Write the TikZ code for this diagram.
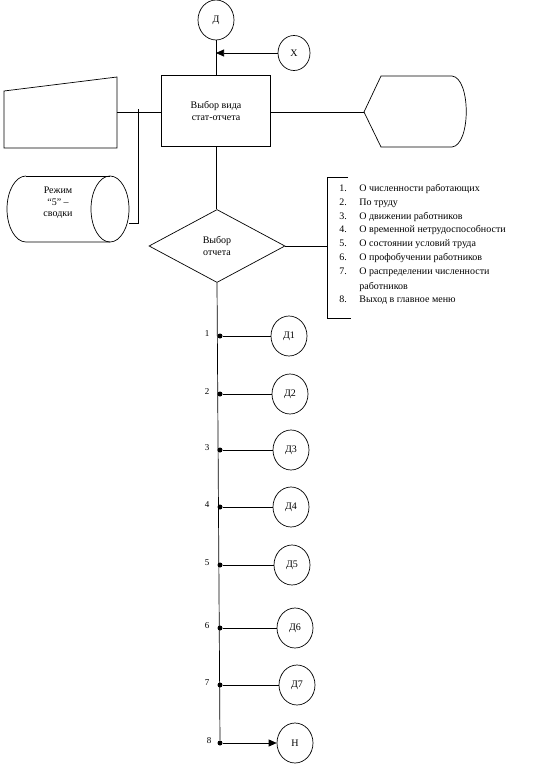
\documentclass[tikz,border=0pt]{standalone}
\usepackage{fontspec}
\setmainfont{Liberation Serif}
\usetikzlibrary{positioning, calc, shapes.geometric, arrows.meta}

\begin{document}
\begin{tikzpicture}[x=1pt, y=-1pt, line width=0.7pt,
    every node/.style={font=\fontsize{10}{11.5}\selectfont},
    term/.style={draw, ellipse, minimum width=36, minimum height=40, inner sep=0pt},
    dot/.style={circle, fill, inner sep=0pt, minimum size=5pt},
    tri/.style={-{Triangle[length=8pt, width=7pt]}}]
    \useasboundingbox (0,0) rectangle (538,768);

    % Top block
    \node[term] (D) at (216,20) {Д};
    \node[term, minimum width=32, minimum height=35] (X) at (294,53) {Х};
    \node[draw, minimum width=109, minimum height=71, align=center, inner sep=0pt]
        (choose) at (216,111) {Выбор вида\\стат-отчета};
    \draw (choose.north) -- (D.south);
    \draw[tri] (X.west) -- (X.west -| choose.north);

    % Manual input (left)
    \draw (4,91) -- (117,77) -- (117,148) -- (4,148) -- cycle;
    \coordinate (inR) at (117,112);
    \draw (inR) -- (inR -| choose.west);

    % Stored data cylinder
    \draw (26,176) arc[start angle=270, end angle=90, x radius=19, y radius=33]
        -- (110,242);
    \draw (26,176) -- (110,176);
    \draw (110,209) ellipse[x radius=19, y radius=33];
    \node[align=center, inner sep=0pt] (mode) at (58,203) {Режим\\“5” –\\сводки};
    \coordinate (cylR) at (129,223);
    \draw (cylR) -- (138,223) -- (138,109);

    % Display (right)
    \draw (364,112) -- (381,76) -- (452,76)
        .. controls (471,78) and (471,145) .. (452,147)
        -- (381,147) -- cycle;
    \coordinate (disp) at (364,112);
    \draw (choose.east |- disp) -- (disp);

    % Decision
    \node[draw, diamond, aspect=1.86, minimum width=136, minimum height=73,
        inner sep=0pt, align=center] (report) at (217,246) {Выбор\\отчета};
    \draw (choose.south) -- (choose.south |- report.north);

    % Comment bracket with list
    \draw (348,177) -- (327,177) -- (327,318) -- (351,318);
    \coordinate (brk) at (327,246);
    \draw (report.east) -- (brk);
    \foreach \n/\y/\t in {1/188/О численности работающих, 2/202/По труду,
        3/216/О движении работников, 4/229/О временной нетрудоспособности,
        5/243/О состоянии условий труда, 6/257/О профобучении работников,
        7/271/О распределении численности, 8/299/Выход в главное меню} {
        \node[anchor=base west, inner sep=0pt] (num\n) at (339,\y+3) {\n.};
        \node[anchor=base west, inner sep=0pt] (item\n) at (359,\y+3) {\t};
    }
    \node[anchor=base west, inner sep=0pt] (item7b) at (359,289) {работников};

    % Branches
    \node[dot] (b8) at (220,743) {};
    \draw (report.south) -- (b8);
    \foreach \n/\y/\cx in {1/336/289, 2/394/290, 3/450/291, 4/507/291,
        5/565/292, 6/628/295, 7/685/297} {
        \node[dot] (b\n) at (220,\y) {};
        \node[term] (d\n) at (\cx,\y) {Д\n};
        \node[font=\fontsize{9}{10}\selectfont] at (207,\y-2) {\n};
        \draw (b\n) -- (d\n);
    }
    \node[term] (n8) at (295,743) {Н};
    \node[font=\fontsize{9}{10}\selectfont] at (209,741) {8};
    \draw[tri] (b8) -- (n8);
\end{tikzpicture}
\end{document}
